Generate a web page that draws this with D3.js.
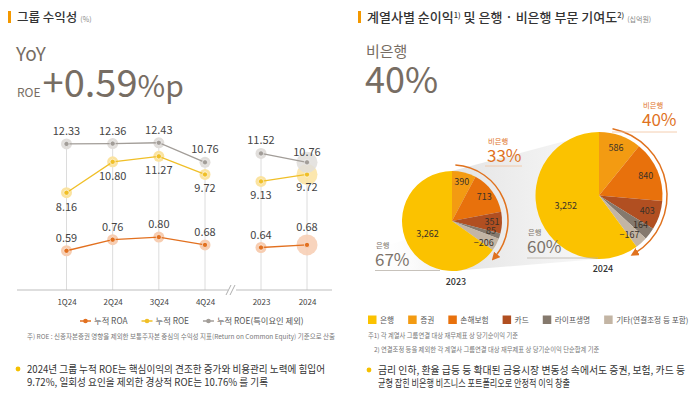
<!DOCTYPE html>
<html>
<head>
<meta charset="utf-8">
<script src="https://cdn.jsdelivr.net/npm/d3@7"></script>
<style>
  body { margin: 0; background: #fff; }
  svg { display: block; font-family: "Noto Sans CJK KR", "Noto Sans", sans-serif; }
</style>
</head>
<body>
<div id="chart"></div>
<script>
// ---- data ----
const quarters = ["1Q24", "2Q24", "3Q24", "4Q24"];
const years = ["2023", "2024"];
const roaQ = [0.59, 0.76, 0.80, 0.68];
const roeQ = [8.16, 10.80, 11.27, 9.72];
const roeExQ = [12.33, 12.36, 12.43, 10.76];
const roaY = [0.64, 0.68];
const roeY = [9.13, 9.72];
const roeExY = [11.52, 10.76];
const seriesNames = ["누적 ROA", "누적 ROE", "누적 ROE(특이요인 제외)"];

const segments = ["은행", "증권", "손해보험", "카드", "라이프생명", "기타(연결조정 등 포함)"];
const profit2023 = [3262, 390, 713, 351, 85, -206];
const profit2024 = [3252, 586, 840, 403, 164, -167];
const bankShare = [67, 60];
const nonBankShare = [33, 40];

const W = 700, H = 394;
const svg = d3.select("#chart").append("svg").attr("width", W).attr("height", H);

const ink = "#333";
const headColor = "#776d63";
const orange = "#e0721e";

// ---------- left panel ----------
svg.append("rect").attr("x", 8).attr("y", 11).attr("width", 3).attr("height", 12).attr("fill", "#f39800");
svg.append("text").attr("x", 17).attr("y", 22).attr("font-size", 12.5).attr("font-weight", 500).attr("fill", ink)
  .text("그룹 수익성")
  .append("tspan").attr("dx", 3).attr("font-size", 7).attr("fill", "#888").attr("font-weight", 400).text("(%)");

svg.append("text").attr("x", 16).attr("y", 61).attr("font-size", 19).attr("fill", headColor).text("YoY");
const big = svg.append("text").attr("x", 17).attr("y", 97).attr("fill", headColor);
big.append("tspan").attr("font-size", 12).text("ROE");
big.append("tspan").attr("dx", 2).attr("font-size", 38).text("+0.59");
big.append("tspan").attr("font-size", 30).text("%p");

const xQ = d3.scalePoint().domain(quarters).range([66.5, 205]);
const xY = d3.scalePoint().domain(years).range([261, 307]);
const yRoe = d3.scaleLinear().domain([8, 13]).range([194.6, 136.1]);
const yRoa = d3.scaleLinear().domain([0.5, 0.9]).range([256.6, 230.6]);
const axisY = 290;

const series = [
  { name: seriesNames[0], q: roaQ, yv: roaY, scale: yRoa, color: "#e2701f", halo: "#f7cdb1", pos: "above" },
  { name: seriesNames[1], q: roeQ, yv: roeY, scale: yRoe, color: "#f0bf27", halo: "#fbe3a0", pos: "below" },
  { name: seriesNames[2], q: roeExQ, yv: roeExY, scale: yRoe, color: "#a29d98", halo: "#e1dedb", pos: "above" }
];

// vertical guide lines
const lc = svg.append("g");
quarters.forEach((c, i) => {
  lc.append("line").attr("x1", xQ(c)).attr("x2", xQ(c)).attr("y1", yRoe(roeExQ[i])).attr("y2", axisY)
    .attr("stroke", "#dcdcdc").attr("stroke-width", 1);
});
years.forEach((c, i) => {
  lc.append("line").attr("x1", xY(c)).attr("x2", xY(c)).attr("y1", yRoe(roeExY[i])).attr("y2", axisY)
    .attr("stroke", "#dcdcdc").attr("stroke-width", 1);
});

// axis
const ax1 = svg.append("g").attr("transform", `translate(0,${axisY})`)
  .call(d3.axisBottom(xQ).tickSize(0).tickPadding(9));
const ax2 = svg.append("g").attr("transform", `translate(0,${axisY})`)
  .call(d3.axisBottom(xY).tickSize(0).tickPadding(9));
[ax1, ax2].forEach(a => {
  a.select(".domain").remove();
  a.selectAll("text").attr("font-size", 8).attr("fill", "#444").attr("font-family", "Noto Sans CJK KR");
});
svg.append("line").attr("x1", 17).attr("x2", 228).attr("y1", axisY).attr("y2", axisY).attr("stroke", "#bdbdbd");
svg.append("line").attr("x1", 236).attr("x2", 332).attr("y1", axisY).attr("y2", axisY).attr("stroke", "#bdbdbd");
[228.5, 232.5].forEach(x => {
  svg.append("line").attr("x1", x - 2.5).attr("x2", x + 2.5).attr("y1", axisY + 5).attr("y2", axisY - 5)
    .attr("stroke", "#999").attr("stroke-width", 0.8);
});

// lines, markers, labels
series.forEach(s => {
  const g = svg.append("g");
  const ptsQ = quarters.map((c, i) => [xQ(c), s.scale(s.q[i]), s.q[i]]);
  const ptsY = years.map((c, i) => [xY(c), s.scale(s.yv[i]), s.yv[i]]);
  const line = d3.line().x(d => d[0]).y(d => d[1]);
  [ptsQ, ptsY].forEach((pts, k) => {
    pts.forEach((p, i) => {
      const bigHalo = k === 1 && i === pts.length - 1;
      g.append("circle").attr("cx", p[0]).attr("cy", p[1]).attr("r", bigHalo ? 10.5 : 5.5)
        .attr("fill", s.halo).attr("opacity", bigHalo ? 0.85 : 1);
    });
    g.append("path").attr("d", line(pts)).attr("fill", "none").attr("stroke", s.color).attr("stroke-width", 1.3);
    pts.forEach((p, i) => {
      g.append("circle").attr("cx", p[0]).attr("cy", p[1]).attr("r", 2.6)
        .attr("fill", s.color).attr("stroke", "#fff").attr("stroke-width", 0.6);
      const bigHalo = k === 1 && i === pts.length - 1;
      let ty = s.pos === "above" ? p[1] - 9 : p[1] + 18;
      if (bigHalo && s.pos === "above") ty = p[1] - (s.scale === yRoa ? 13.5 : 6);
      if (bigHalo && s.pos === "below") ty = p[1] + 16.5;
      g.append("text").attr("x", p[0]).attr("y", ty).attr("text-anchor", "middle")
        .attr("font-size", 11).attr("fill", "#444").text(p[2].toFixed(2));
    });
  });
});

// left legend
const legL = svg.append("g").attr("transform", "translate(80,321)");
let lx = 0;
series.forEach(s => {
  const it = legL.append("g").attr("transform", `translate(${lx},0)`);
  it.append("line").attr("x1", 0).attr("x2", 11).attr("y1", 0).attr("y2", 0).attr("stroke", s.color).attr("stroke-width", 1.5);
  it.append("circle").attr("cx", 5.5).attr("cy", 0).attr("r", 2.3).attr("fill", s.color);
  const t = it.append("text").attr("x", 14).attr("y", 3).attr("font-size", 8.3).attr("fill", "#555").text(s.name);
  lx += 14 + t.node().getComputedTextLength() + 14;
});

svg.append("text").attr("x", 27).attr("y", 338.5).attr("font-size", 6.5).attr("fill", "#777")
  .attr("textLength", 308).attr("lengthAdjust", "spacingAndGlyphs")
  .text("주) ROE : 신종자본증권 영향을 제외한 보통주자본 중심의 수익성 지표(Return on Common Equity) 기준으로 산출");

svg.append("circle").attr("cx", 18).attr("cy", 369).attr("r", 2.4).attr("fill", "#f5c000");
svg.append("text").attr("x", 27).attr("y", 373).attr("font-size", 10.3).attr("fill", ink)
  .attr("textLength", 298).attr("lengthAdjust", "spacingAndGlyphs")
  .text("2024년 그룹 누적 ROE는 핵심이익의 견조한 증가와 비용관리 노력에 힘입어");
svg.append("text").attr("x", 27).attr("y", 386).attr("font-size", 10.3).attr("fill", ink)
  .attr("textLength", 241).attr("lengthAdjust", "spacingAndGlyphs")
  .text("9.72%, 일회성 요인을 제외한 경상적 ROE는 10.76% 를 기록");

// ---------- right panel ----------
svg.append("rect").attr("x", 358).attr("y", 11).attr("width", 3).attr("height", 12).attr("fill", "#f39800");
const rt = svg.append("text").attr("x", 367).attr("y", 22).attr("font-size", 13).attr("font-weight", 500).attr("fill", ink);
rt.append("tspan").text("계열사별 순이익");
rt.append("tspan").attr("font-size", 7.5).attr("dy", -4).text("1)");
rt.append("tspan").attr("dy", 4).text(" 및 은행 · 비은행 부문 기여도");
rt.append("tspan").attr("font-size", 7.5).attr("dy", -4).text("2)");
rt.append("tspan").attr("dy", 4).attr("dx", 3).attr("font-size", 7).attr("font-weight", 400).attr("fill", "#888").text("(십억원)");

svg.append("text").attr("x", 366).attr("y", 57).attr("font-size", 15).attr("fill", headColor).text("비은행");
svg.append("text").attr("x", 365).attr("y", 93).attr("font-size", 36).attr("fill", headColor).text(nonBankShare[1] + "%");

const segColors = ["#fbc200", "#f39b12", "#e8710c", "#b14f21", "#85796d", "#c3b5a4"];
const pieOrder = [1, 2, 3, 4, 5, 0];
// label radius (as share of r) and vertical nudge for each segment
const labelK = [0.55, 0.8, 0.8, 0.8, 0.82, 0.72];
const labelDy = [0, 0, 0, 0, -2, 5];
const pies = [
  { year: years[0], vals: profit2023, cx: 452, cy: 221, r: 50, arrowR: 56, a0: 0.06, i: 0 },
  { year: years[1], vals: profit2024, cx: 599, cy: 195.5, r: 63.5, arrowR: 68, a0: 0.2, i: 1 }
];

// zoom shading between the two pies
const defs = svg.append("defs");
const grad = defs.append("linearGradient").attr("id", "shade").attr("x1", 0).attr("x2", 1).attr("y1", 0).attr("y2", 0);
grad.append("stop").attr("offset", "0%").attr("stop-color", "#dcdcdc").attr("stop-opacity", 0.8);
grad.append("stop").attr("offset", "100%").attr("stop-color", "#f0f0f0").attr("stop-opacity", 0.5);
svg.append("path").attr("fill", "url(#shade)")
  .attr("d", `M${pies[0].cx},${pies[0].cy - pies[0].r} L${pies[1].cx},${pies[1].cy - pies[1].r} L${pies[1].cx},${pies[1].cy + pies[1].r} L${pies[0].cx},${pies[0].cy + pies[0].r} Z`);
const grad2 = defs.append("linearGradient").attr("id", "shadeL").attr("x1", 1).attr("x2", 0).attr("y1", 0).attr("y2", 0);
grad2.append("stop").attr("offset", "0%").attr("stop-color", "#e4e4e4").attr("stop-opacity", 0.7);
grad2.append("stop").attr("offset", "100%").attr("stop-color", "#fff").attr("stop-opacity", 0);
svg.append("path").attr("fill", "url(#shadeL)")
  .attr("d", `M${pies[0].cx},${pies[0].cy + 5} L${pies[0].cx - 78},${pies[0].cy + 28} L${pies[0].cx - 78},${pies[0].cy + 49} L${pies[0].cx},${pies[0].cy + 49} Z`);

defs.append("marker").attr("id", "arrow").attr("viewBox", "0 0 10 10").attr("refX", 5).attr("refY", 5)
  .attr("markerWidth", 5.5).attr("markerHeight", 5.5).attr("orient", "auto")
  .append("path").attr("d", "M0,0 L10,5 L0,10 Z").attr("fill", orange);

const pieGen = d3.pie().sort(null).value(d => Math.abs(d.v));
pies.forEach(p => {
  const data = pieOrder.map(k => ({ k, v: p.vals[k] }));
  const arcs = pieGen(data);
  const g = svg.append("g").attr("transform", `translate(${p.cx},${p.cy})`);
  const arc = d3.arc().innerRadius(0).outerRadius(p.r);
  g.selectAll("path.slice").data(arcs).enter().append("path").attr("class", "slice")
    .attr("d", arc).attr("fill", d => segColors[d.data.k]);
  g.selectAll("text.val").data(arcs).enter().append("text").attr("class", "val")
    .attr("transform", d => {
      const k = labelK[d.data.k];
      const c = d3.arc().innerRadius(p.r * k).outerRadius(p.r * k).centroid(d);
      return `translate(${c[0]},${c[1] + 3 + labelDy[d.data.k]})`;
    })
    .attr("text-anchor", "middle").attr("font-size", 9).attr("fill", "#3a3128")
    .text(d => d3.format(",")(d.data.v));

  // arrow along the non-bank part
  const endA = arcs[arcs.length - 1].startAngle + 0.09;
  const pth = d3.path();
  const s0 = p.a0 - Math.PI / 2, s1 = endA - Math.PI / 2;
  pth.moveTo(p.arrowR * Math.cos(s0), p.arrowR * Math.sin(s0));
  pth.arc(0, 0, p.arrowR, s0, s1, false);
  g.append("path").attr("d", pth.toString()).attr("fill", "none").attr("stroke", orange)
    .attr("stroke-width", 1.5).attr("marker-end", "url(#arrow)");

  // year label
  g.append("text").attr("x", 4).attr("y", p.r + (p.i === 0 ? 14 : 13))
    .attr("text-anchor", "middle").attr("font-size", 9).attr("font-weight", 500).attr("fill", ink).text(p.year);
});

// share callouts
const callouts = [
  { lbl: "비은행", val: nonBankShare[0], x: 487, y: 162, lineX: [485, 522], lineY: 166, color: orange },
  { lbl: "비은행", val: nonBankShare[1], x: 642, y: 126, lineX: [612, 677], lineY: 132, color: orange },
  { lbl: "은행", val: bankShare[0], x: 375, y: 266, lineX: [375, 440], lineY: 270.5, color: "#7c736a" },
  { lbl: "은행", val: bankShare[1], x: 527, y: 252.5, lineX: [527, 598], lineY: 258, color: "#7c736a" }
];
callouts.forEach(c => {
  svg.append("line").attr("x1", c.lineX[0]).attr("x2", c.lineX[1]).attr("y1", c.lineY).attr("y2", c.lineY)
    .attr("stroke", c.color === orange ? "#f1c29d" : "#b9b2aa").attr("stroke-width", 0.8);
  svg.append("text").attr("x", c.x + 1).attr("y", c.y - 18)
    .attr("font-size", 7.3).attr("fill", c.color).text(c.lbl);
  svg.append("text").attr("x", c.x).attr("y", c.y)
    .attr("font-size", 17).attr("fill", c.color).text(c.val + "%");
});

// right legend
const legR = svg.append("g").attr("transform", "translate(368,320)");
let rx = 0;
segments.forEach((s, i) => {
  const it = legR.append("g").attr("transform", `translate(${rx},0)`);
  it.append("rect").attr("x", 0).attr("y", -4.5).attr("width", 8.5).attr("height", 8.5).attr("fill", segColors[i]);
  const t = it.append("text").attr("x", 12).attr("y", 3).attr("font-size", 7.7).attr("fill", "#555").text(s);
  rx += 12 + t.node().getComputedTextLength() + 14;
});

svg.append("text").attr("x", 368).attr("y", 337.5).attr("font-size", 6.3).attr("fill", "#777")
  .text("주1) 각 계열사 그룹연결 대상 재무제표 상 당기순이익 기준");
svg.append("text").attr("x", 374).attr("y", 351.5).attr("font-size", 6.3).attr("fill", "#777")
  .text("2) 연결조정 등을 제외한 각 계열사 그룹연결 대상 재무제표 상 당기순이익 단순합계 기준");

svg.append("circle").attr("cx", 369).attr("cy", 370).attr("r", 2.4).attr("fill", "#f5c000");
svg.append("text").attr("x", 378).attr("y", 374).attr("font-size", 10.3).attr("fill", ink)
  .attr("textLength", 307).attr("lengthAdjust", "spacingAndGlyphs")
  .text("금리 인하, 환율 급등 등 확대된 금융시장 변동성 속에서도 증권, 보험, 카드 등");
svg.append("text").attr("x", 378).attr("y", 387).attr("font-size", 10.3).attr("fill", ink)
  .attr("textLength", 192).attr("lengthAdjust", "spacingAndGlyphs")
  .text("균형 잡힌 비은행 비즈니스 포트폴리오로 안정적 이익 창출");
</script>
</body>
</html>
